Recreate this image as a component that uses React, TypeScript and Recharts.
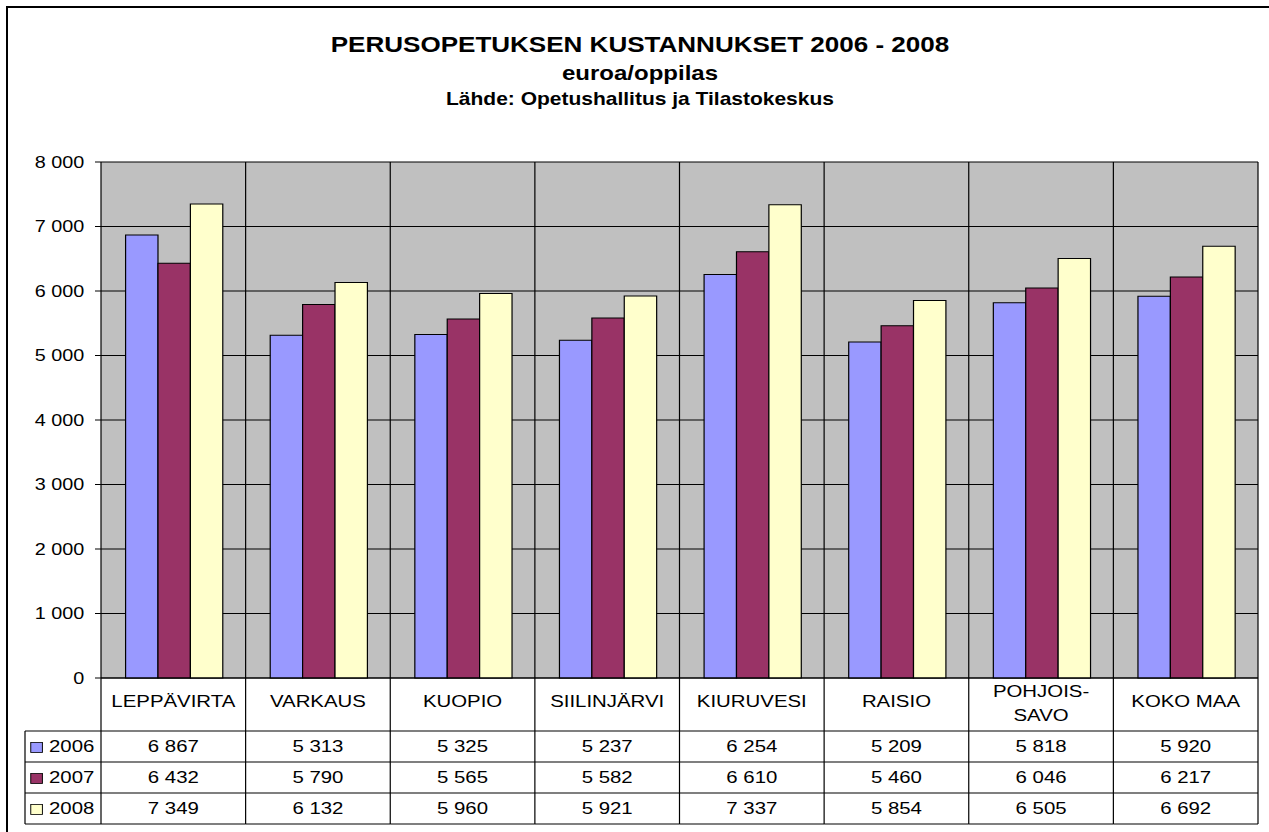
import React from 'react'
import { BarChart, Bar, XAxis, YAxis, CartesianGrid } from 'recharts'

const categories = [
  'LEPPÄVIRTA',
  'VARKAUS',
  'KUOPIO',
  'SIILINJÄRVI',
  'KIURUVESI',
  'RAISIO',
  'POHJOIS-SAVO',
  'KOKO MAA',
]
const years = ['2006', '2007', '2008']
const values2006 = [6867, 5313, 5325, 5237, 6254, 5209, 5818, 5920]
const values2007 = [6432, 5790, 5565, 5582, 6610, 5460, 6046, 6217]
const values2008 = [7349, 6132, 5960, 5921, 7337, 5854, 6505, 6692]
const yTicks = [0, 1000, 2000, 3000, 4000, 5000, 6000, 7000, 8000]

const seriesValues = [values2006, values2007, values2008]
const colors = ['#9999FF', '#993366', '#FFFFCC']

const data = categories.map((name, i) => ({
  name,
  y2006: values2006[i],
  y2007: values2007[i],
  y2008: values2008[i],
}))

// the original picture is stretched sideways, so draw narrow and scale x
const S = 1.2
const W = 1269 / S
const H = 832
const PLOT_L = 101 / S
const PLOT_R = 1258 / S
const FONT = '"Liberation Sans", Arial, sans-serif'
const LABEL_H = 53
const ROW_H = 31
const LEGEND_W = PLOT_L - 25 / S

const fmt = (v: number) => String(v).replace(/\B(?=(\d{3})+(?!\d))/g, ' ')

function TableTick(props: any) {
  const { x, y, payload, index, width, visibleTicksCount } = props
  const band =
    width && visibleTicksCount
      ? width / visibleTicksCount
      : (PLOT_R - PLOT_L) / categories.length
  const left = x - band / 2
  const right = x + band / 2
  const bottom = y + LABEL_H + ROW_H * years.length
  const label: string = payload.value
  const lines = label.length > 11 && label.includes('-')
    ? [label.slice(0, label.indexOf('-') + 1), label.slice(label.indexOf('-') + 1)]
    : [label]
  const lineColor = '#000'
  const rowsLeft = index === 0 ? left - LEGEND_W : left
  return (
    <g fontFamily={FONT}>
      {lines.length === 1 ? (
        <text x={x} y={y + 29} textAnchor="middle" fontSize={17} fill="#000">
          {label}
        </text>
      ) : (
        lines.map((l, k) => (
          <text key={k} x={x} y={y + 19 + k * 24} textAnchor="middle" fontSize={17} fill="#000">
            {l}
          </text>
        ))
      )}
      {years.map((yr, r) => {
        const top = y + LABEL_H + r * ROW_H
        return (
          <g key={yr}>
            <line x1={rowsLeft} x2={right} y1={top} y2={top} stroke={lineColor} />
            <text
              x={x}
              y={top + ROW_H / 2 + 6}
              textAnchor="middle"
              fontSize={17}
              fill="#000"
            >
              {fmt(seriesValues[r][index])}
            </text>
            {index === 0 && (
              <g>
                <rect
                  x={left - LEGEND_W + 4.8}
                  y={top + ROW_H / 2 - 4}
                  width={9.7}
                  height={10}
                  fill={colors[r]}
                  stroke="#000"
                  strokeWidth={0.8}
                />
                <text
                  x={left - LEGEND_W + 20}
                  y={top + ROW_H / 2 + 6}
                  fontSize={17}
                  fill="#000"
                >
                  {yr}
                </text>
              </g>
            )}
          </g>
        )
      })}
      <line x1={rowsLeft} x2={right} y1={bottom} y2={bottom} stroke={lineColor} />
      <line x1={right} x2={right} y1={y} y2={bottom} stroke={lineColor} />
      {index === 0 && (
        <g>
          <line x1={left} x2={left} y1={y} y2={bottom} stroke={lineColor} />
          <line
            x1={left - LEGEND_W}
            x2={left - LEGEND_W}
            y1={y + LABEL_H}
            y2={bottom}
            stroke={lineColor}
          />
        </g>
      )}
    </g>
  )
}

export default function App() {
  return (
    <div
      style={{
        position: 'absolute',
        left: 0,
        top: 0,
        width: 1269,
        height: 832,
        overflow: 'hidden',
        background: '#fff',
      }}
    >
      <div
        style={{
          position: 'absolute',
          left: 6,
          top: 6,
          width: 1400,
          height: 900,
          borderLeft: '2px solid #000',
          borderTop: '2px solid #000',
        }}
      />
      <div
        style={{
          position: 'absolute',
          left: 0,
          top: 0,
          width: W,
          height: H,
          transform: `scaleX(${S})`,
          transformOrigin: '0 0',
        }}
      >
        <BarChart
          width={W}
          height={H}
          data={data}
          margin={{ top: 162, right: W - PLOT_R, bottom: 4, left: PLOT_L - 70 }}
          barCategoryGap="17%"
          barGap={0}
        >
          <CartesianGrid
            fill="#C0C0C0"
            fillOpacity={1}
            stroke="#000"
            horizontal={true}
            vertical={true}
            verticalCoordinatesGenerator={(p: any) => {
              const l = p && p.offset ? p.offset.left : PLOT_L
              const w = p && p.offset ? p.offset.width : PLOT_R - PLOT_L
              return categories.map((_, i) => l + ((i + 1) * w) / categories.length)
            }}
          />
          <XAxis
            dataKey="name"
            height={150}
            tickSize={0}
            tickMargin={0}
            tickLine={false}
            axisLine={{ stroke: '#000' }}
            interval={0}
            tick={<TableTick />}
          />
          <YAxis
            width={70}
            domain={[0, 8000]}
            ticks={yTicks}
            interval={0}
            tickSize={5}
            tickMargin={9}
            tickLine={{ stroke: '#000' }}
            axisLine={{ stroke: '#000' }}
            tickFormatter={fmt}
            tick={{ fontSize: 16.5, fill: '#000', fontFamily: FONT }}
          />
          <Bar dataKey="y2006" fill={colors[0]} stroke="#000" strokeWidth={1} isAnimationActive={false} />
          <Bar dataKey="y2007" fill={colors[1]} stroke="#000" strokeWidth={1} isAnimationActive={false} />
          <Bar dataKey="y2008" fill={colors[2]} stroke="#000" strokeWidth={1} isAnimationActive={false} />
        </BarChart>
        <svg
          width={W}
          height={H}
          style={{ position: 'absolute', left: 0, top: 0, pointerEvents: 'none' }}
          fontFamily={FONT}
          fontWeight="bold"
        >
          <text x={640 / S} y={52.5} textAnchor="middle" fontSize={21.7} fill="#000">
            PERUSOPETUKSEN KUSTANNUKSET 2006 - 2008
          </text>
          <text x={640 / S} y={80} textAnchor="middle" fontSize={20} fill="#000">
            euroa/oppilas
          </text>
          <text x={640 / S} y={105} textAnchor="middle" fontSize={17.5} fill="#000">
            Lähde: Opetushallitus ja Tilastokeskus
          </text>
        </svg>
      </div>
    </div>
  )
}
